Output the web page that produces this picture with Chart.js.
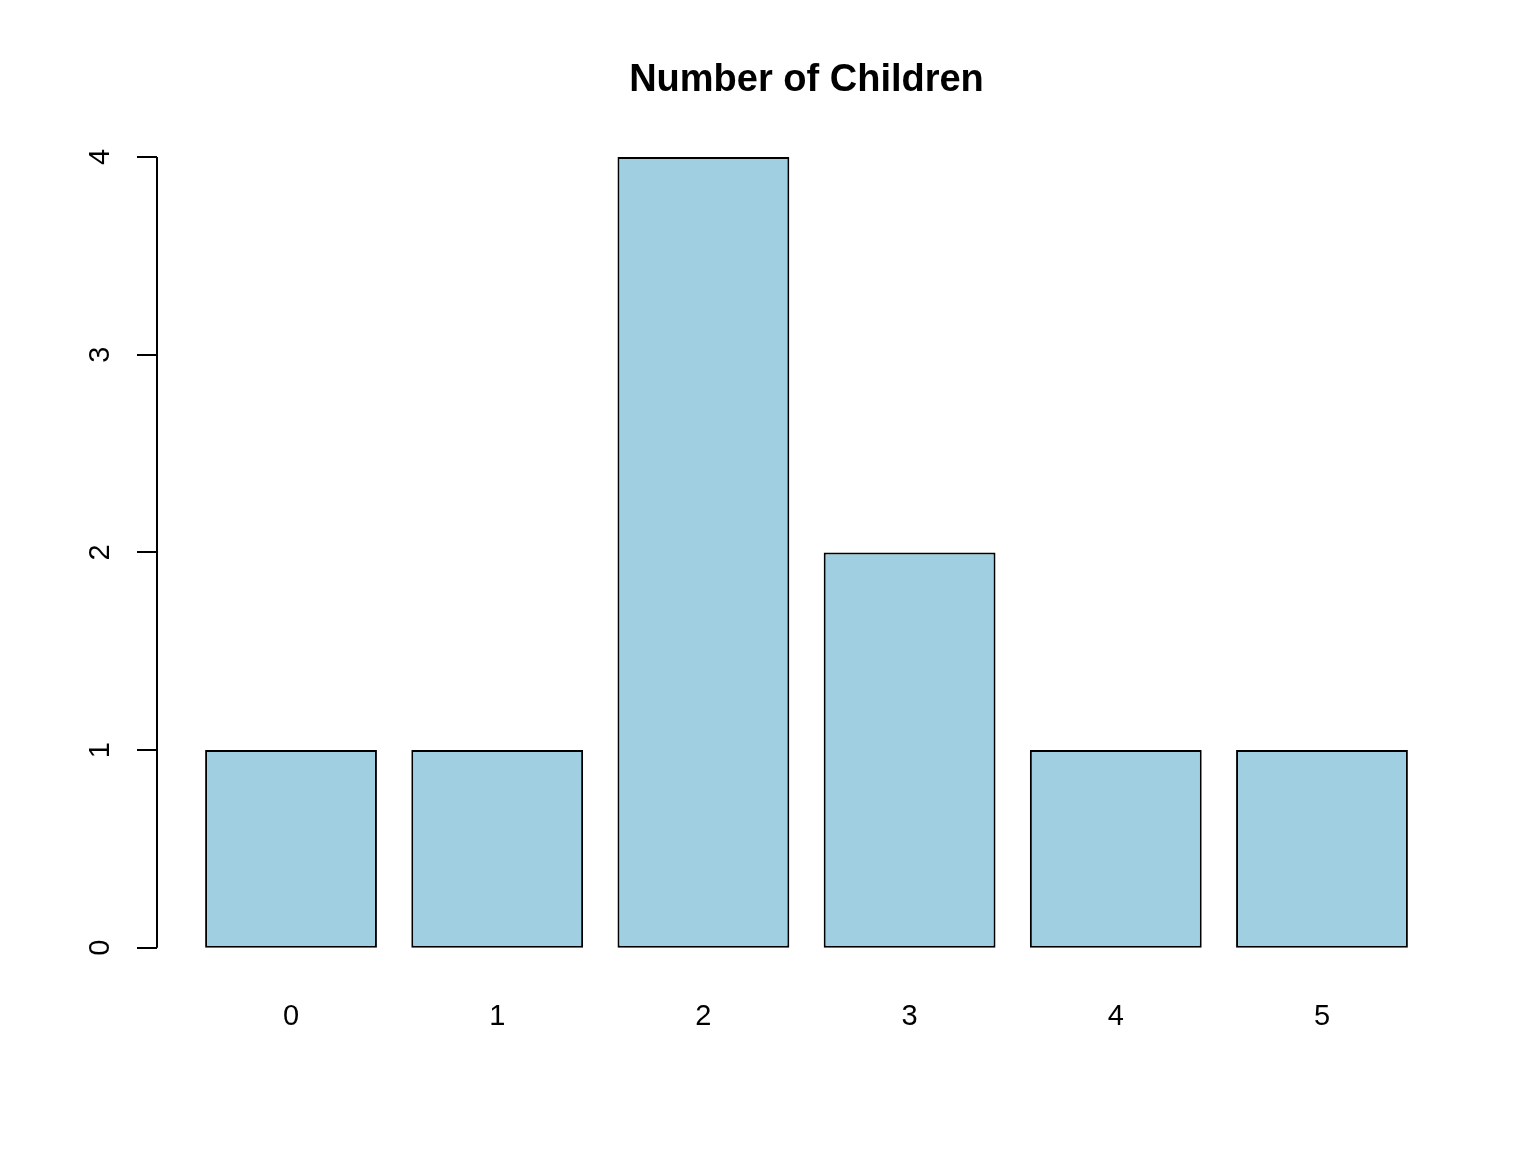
<!DOCTYPE html>
<html>
<head>
<meta charset="utf-8">
<script src="https://cdn.jsdelivr.net/npm/chart.js@4"></script>
<style>
  body { margin: 0; background: #fff; }
  canvas { display: block; }
</style>
</head>
<body>
<canvas id="barChart" width="1536" height="1152"></canvas>
<script>
const categories = ['0', '1', '2', '3', '4', '5'];
const counts     = [1, 1, 4, 2, 1, 1];
const yTicks     = [0, 1, 2, 3, 4];

// R barplot geometry: width 1, space 0.2 -> centres at 0.7 + 1.2*i
const centres = categories.map((c, i) => 0.7 + 1.2 * i);

const font = '"Liberation Sans", Arial, Helvetica, sans-serif';

// R-style axes and title
const rAxes = {
  id: 'rAxes',
  afterDraw(chart) {
    const { ctx, scales: { x, y } } = chart;
    ctx.save();
    ctx.strokeStyle = '#000';
    ctx.fillStyle = '#000';
    ctx.lineWidth = 2;
    const ax = x.left;
    ctx.beginPath();
    ctx.moveTo(ax, y.getPixelForValue(yTicks[0]));
    ctx.lineTo(ax, y.getPixelForValue(yTicks[yTicks.length - 1]));
    yTicks.forEach(v => {
      const py = Math.round(y.getPixelForValue(v));
      ctx.moveTo(ax, py);
      ctx.lineTo(ax - 20, py);
    });
    ctx.stroke();

    ctx.font = '29px ' + font;
    ctx.textAlign = 'center';
    ctx.textBaseline = 'middle';
    yTicks.forEach(v => {
      const py = y.getPixelForValue(v);
      ctx.save();
      ctx.translate(101, py);
      ctx.rotate(-Math.PI / 2);
      ctx.fillText(String(v), 0, 0);
      ctx.restore();
    });

    categories.forEach((c, i) => {
      ctx.fillText(c, x.getPixelForValue(centres[i]), 1017);
    });

    ctx.font = 'bold 38px ' + font;
    ctx.fillText('Number of Children', (x.left + x.right) / 2, 81);
    ctx.restore();
  }
};

new Chart(document.getElementById('barChart'), {
  type: 'bar',
  data: {
    datasets: [{
      data: centres.map((cx, i) => ({ x: cx, y: counts[i] })),
      backgroundColor: '#9fcfe0',
      borderColor: '#000',
      borderWidth: 2,
      borderSkipped: false,
      barPercentage: 1 / 1.2,
      categoryPercentage: 1
    }]
  },
  options: {
    responsive: false,
    animation: false,
    layout: { padding: { left: 157, right: 80, top: 125.4, bottom: 172.6 } },
    plugins: { legend: { display: false }, tooltip: { enabled: false }, title: { display: false } },
    scales: {
      x: {
        type: 'linear', min: -0.08, max: 7.48, offset: false, display: false,
        afterBuildTicks: s => { s.ticks = centres.map(v => ({ value: v })); }
      },
      y: { min: -0.16, max: 4.16, display: false }
    }
  },
  plugins: [rAxes]
});
</script>
</body>
</html>
